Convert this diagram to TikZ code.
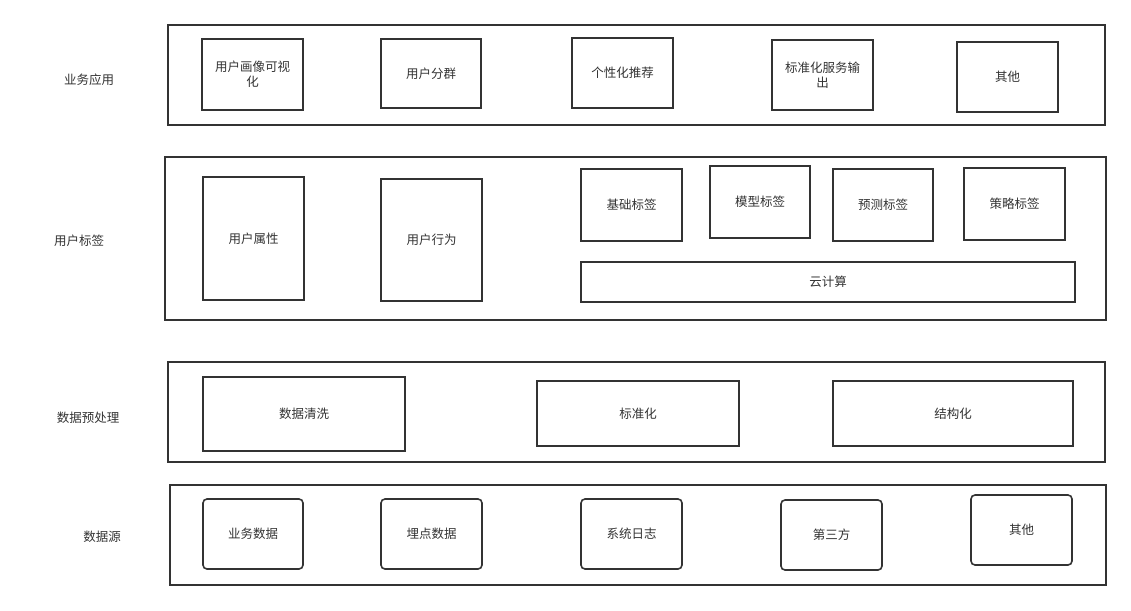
\documentclass[tikz,border=0pt]{standalone}
\usepackage{fontspec}
\setmainfont{Noto Sans CJK SC}
\usetikzlibrary{calc}

\definecolor{edge}{HTML}{333333}

\begin{document}
\begin{tikzpicture}[x=1pt, y=-1pt,
  layer/.style={draw=edge, line width=1.6pt, inner sep=0pt},
  item/.style={draw=edge, line width=1.6pt, inner sep=0pt, align=center,
    text=edge, font=\fontsize{12.5}{15}\selectfont},
  ritem/.style={item, rounded corners=4pt},
  lbl/.style={text=edge, font=\fontsize{12.5}{15}\selectfont}]
  \useasboundingbox (0,0) rectangle (1131,610);
  % layers
  \foreach \xa/\ya/\xb/\yb/\name in {
    168/25/1105/125/app, 165/157/1106/320/tag,
    168/362/1105/462/prep, 170/485/1106/585/src}
  {
    \node[layer, minimum width={\xb-\xa}, minimum height={\yb-\ya}]
      (\name) at ({(\xa+\xb)/2},{(\ya+\yb)/2}) {};
  }
  % layer names
  \node[lbl] (appname) at (89,80) {业务应用};
  \node[lbl] (tagname) at (79,241) {用户标签};
  \node[lbl] (prepname) at (88,418) {数据预处理};
  \node[lbl] (srcname) at (102,537) {数据源};
  % boxes
  \foreach \xa/\ya/\xb/\yb/\name/\txt in {
    202/39/303/110/portrait/{用户画像可视\\化},
    381/39/481/108/group/用户分群,
    572/38/673/108/recom/个性化推荐,
    772/40/873/110/service/{标准化服务输\\出},
    957/42/1058/112/appother/其他,
    203/177/304/300/attr/用户属性,
    381/179/482/301/behav/用户行为,
    581/169/682/241/basic/基础标签,
    710/166/810/238/model/模型标签,
    833/169/933/241/predict/预测标签,
    964/168/1065/240/policy/策略标签,
    581/262/1075/302/cloud/云计算,
    203/377/405/451/clean/数据清洗,
    537/381/739/446/norm/标准化,
    833/381/1073/446/struct/结构化}
  {
    \node[item, minimum width={\xb-\xa}, minimum height={\yb-\ya}]
      (\name) at ({(\xa+\xb)/2},{(\ya+\yb)/2}) {\txt};
  }
  \foreach \xa/\ya/\xb/\yb/\name/\txt in {
    203/499/303/569/bizdata/业务数据,
    381/499/482/569/trackdata/埋点数据,
    581/499/682/569/syslog/系统日志,
    781/500/882/570/third/第三方,
    971/495/1072/565/srcother/其他}
  {
    \node[ritem, minimum width={\xb-\xa}, minimum height={\yb-\ya}]
      (\name) at ({(\xa+\xb)/2},{(\ya+\yb)/2}) {\txt};
  }
\end{tikzpicture}
\end{document}
